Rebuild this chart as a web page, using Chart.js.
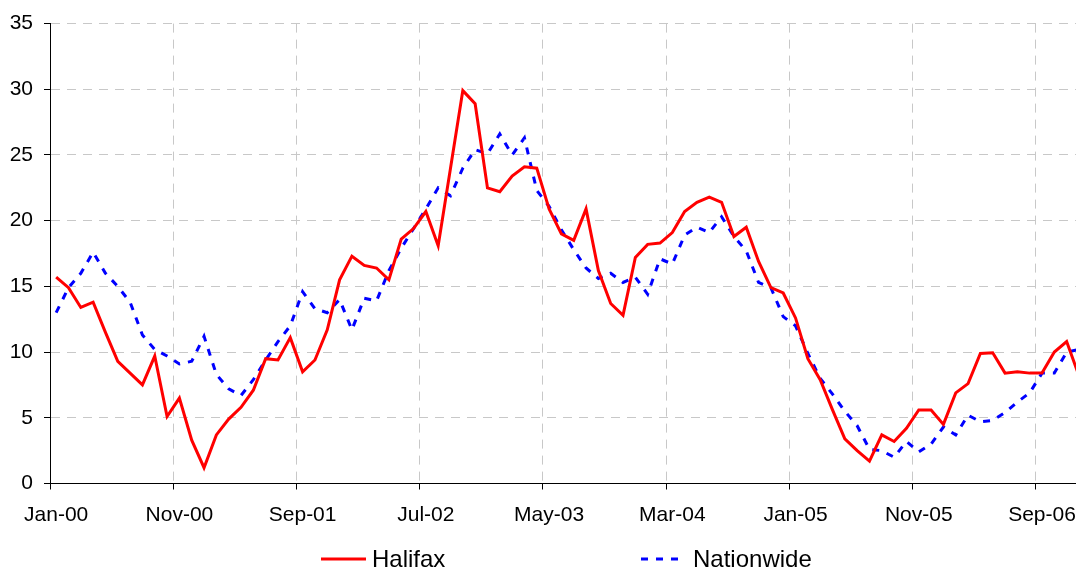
<!DOCTYPE html>
<html>
<head>
<meta charset="utf-8">
<script src="https://cdn.jsdelivr.net/npm/chart.js@4"></script>
<style>
  html, body { margin: 0; padding: 0; overflow: hidden; background: #fff; }
  #wrap { width: 1092px; height: 570px; }
</style>
</head>
<body>
<div id="wrap"><canvas id="myChart" width="1092" height="570"></canvas></div>
<script>
// months Jan-00 .. Dec-06
const monthNames = ["Jan", "Feb", "Mar", "Apr", "May", "Jun", "Jul", "Aug", "Sep", "Oct", "Nov", "Dec"];
const years = ["00", "01", "02", "03", "04", "05", "06"];
const categories = [];
years.forEach((y) => monthNames.forEach((m) => categories.push(m + "-" + y)));

const halifax = [
  15.7, 14.9, 13.4, 13.8, 11.5, 9.3, 8.4, 7.5, 9.7, 5.1, 6.5, 3.3,
  1.2, 3.7, 4.9, 5.8, 7.1, 9.5, 9.4, 11.1, 8.5, 9.4, 11.7, 15.5,
  17.3, 16.6, 16.4, 15.5, 18.6, 19.4, 20.7, 18.1, 24.0, 29.9, 28.9, 22.5,
  22.2, 23.4, 24.1, 24.0, 20.9, 19.0, 18.5, 20.9, 16.2, 13.7, 12.8, 17.2,
  18.2, 18.3, 19.1, 20.7, 21.4, 21.8, 21.4, 18.8, 19.5, 16.9, 14.9, 14.5,
  12.6, 9.5, 7.9, 5.6, 3.4, 2.5, 1.7, 3.7, 3.2, 4.2, 5.6, 5.6,
  4.5, 6.9, 7.6, 9.9, 9.95, 8.4, 8.5, 8.4, 8.4, 10.0, 10.8, 8.2,
];

const nationwide = [
  13.0, 14.9, 16.0, 17.6, 16.0, 15.0, 13.8, 11.3, 10.2, 9.7, 9.1, 9.3,
  11.2, 8.3, 7.2, 6.7, 7.9, 9.4, 10.8, 12.0, 14.6, 13.3, 13.0, 14.0,
  11.7, 14.1, 13.9, 16.2, 17.9, 19.4, 20.9, 22.5, 21.9, 24.0, 25.4, 25.1,
  26.6, 25.0, 26.3, 22.3, 21.1, 19.3, 17.8, 16.4, 15.6, 16.0, 15.3, 15.7,
  14.4, 17.1, 16.7, 18.9, 19.5, 19.1, 20.3, 18.8, 17.7, 15.3, 14.9, 12.7,
  12.0, 9.9, 8.0, 6.8, 5.5, 4.4, 2.6, 2.5, 2.0, 3.2, 2.4, 3.0,
  4.3, 3.7, 5.2, 4.7, 4.8, 5.4, 6.2, 6.9, 8.4, 8.4, 10.0, 10.2,
];

const yMin = 0;
const yMax = 35;
const yStep = 5;
const labelEvery = 10;

Chart.defaults.font.family = "'Liberation Sans', Arial, sans-serif";
Chart.defaults.font.size = 21;
Chart.defaults.color = "#000";

// legend drawn under the plot, items spread apart like the original
const spreadLegend = {
  id: "spreadLegend",
  afterDraw(chart) {
    const ctx = chart.ctx;
    const slots = [321, 641];
    const y = 559;
    ctx.save();
    ctx.font = "24px 'Liberation Sans', Arial, sans-serif";
    ctx.textBaseline = "middle";
    chart.data.datasets.forEach((ds, i) => {
      const x = slots[i];
      ctx.beginPath();
      ctx.strokeStyle = ds.borderColor;
      ctx.lineWidth = ds.borderWidth;
      ctx.setLineDash(ds.borderDash || []);
      ctx.moveTo(x, y);
      ctx.lineTo(x + 45, y);
      ctx.stroke();
      ctx.setLineDash([]);
      ctx.fillStyle = "#000";
      ctx.fillText(ds.label, x + (i === 0 ? 51 : 52), y + 1);
    });
    ctx.restore();
  },
};

const chart = new Chart(document.getElementById("myChart"), {
  type: "line",
  data: {
    labels: categories,
    datasets: [
      {
        label: "Halifax",
        data: halifax,
        borderColor: "#ff0000",
        borderWidth: 3,
        pointRadius: 0,
        tension: 0,
      },
      {
        label: "Nationwide",
        data: nationwide,
        borderColor: "#0000ff",
        borderWidth: 3,
        borderDash: [7, 8],
        pointRadius: 0,
        tension: 0,
      },
    ],
  },
  options: {
    responsive: false,
    animation: false,
    devicePixelRatio: 1,
    layout: { padding: { top: 21, right: 5, bottom: 40, left: 0 } },
    plugins: {
      legend: { display: false },
      tooltip: { enabled: false },
    },
    scales: {
      x: {
        offset: true,
        afterFit: (s) => { s.height = 46.5; },
        grid: {
          offset: true,
          tickLength: 6,
          color: (c) => (c.index % labelEvery === 0 && c.index > 0 ? "#c8c8c8" : "transparent"),
          tickColor: (c) => (c.index % labelEvery === 0 ? "#000" : "transparent"),
        },
        border: { color: "#000", width: 1, dash: [9, 7] },
        ticks: {
          autoSkip: false,
          maxRotation: 0,
          padding: 13,
          callback: (v, i) => (i % labelEvery === 0 ? categories[i] : ""),
        },
      },
      y: {
        min: yMin,
        max: yMax,
        afterFit: (s) => { s.width = 50; },
        grid: {
          tickLength: 6,
          color: (c) => (c.tick && c.tick.value === 0 ? "transparent" : "#c8c8c8"),
          tickColor: "#000",
        },
        border: { color: "#000", width: 1, dash: [9, 7] },
        ticks: { stepSize: yStep, padding: 11 },
      },
    },
  },
  plugins: [spreadLegend],
});
</script>
</body>
</html>
